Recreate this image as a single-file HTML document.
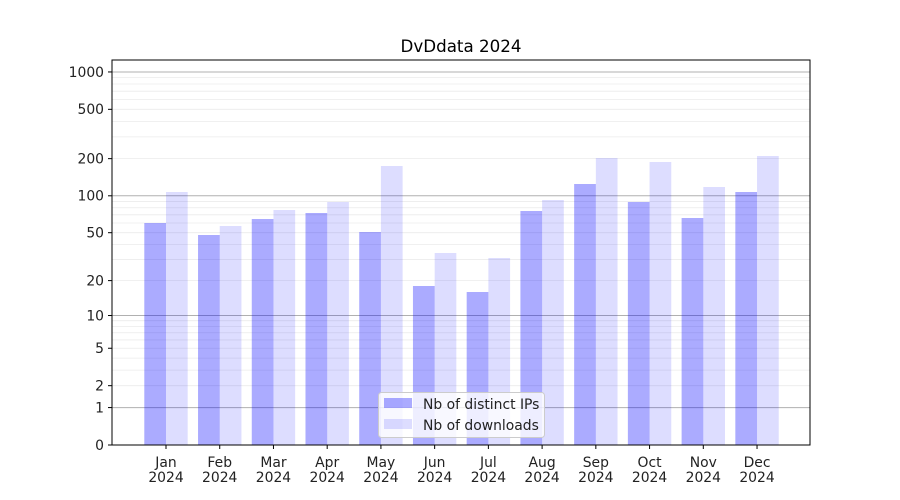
<!DOCTYPE html>
<html><head><meta charset="utf-8"><style>body{margin:0;background:#fff}svg{display:block;font-family:"DejaVu Sans","Liberation Sans",sans-serif}</style></head><body>
<svg width="900" height="500" viewBox="0 0 900 500" xmlns="http://www.w3.org/2000/svg">
<rect width="900" height="500" fill="#fff"/>
<g id="grid"></g>
<g id="bars"></g>
<rect x="112" y="60" width="698" height="385" fill="none" stroke="#000" stroke-width="1"/>
<g id="ticks" font-size="13.9" fill="#222"></g>
<text x="461" y="52" text-anchor="middle" font-size="16.7">DvDdata 2024</text>
<g>
<rect x="378.5" y="392.5" width="166" height="45" rx="3" fill="#fff" fill-opacity="0.8" stroke="#ccc"/>
<rect x="384" y="398" width="28" height="10" fill="#0000ff" fill-opacity="0.33"/>
<rect x="384" y="419" width="28" height="10" fill="#0000ff" fill-opacity="0.133"/>
<text x="423" y="409" font-size="13.9" fill="#222">Nb of distinct IPs</text>
<text x="423" y="430" font-size="13.9" fill="#222">Nb of downloads</text>
</g>
<script>
var ns="http://www.w3.org/2000/svg";
function Y(v){return 445-124.33*Math.log10(1+v);}
function el(t,a,p,txt){var e=document.createElementNS(ns,t);for(var k in a)e.setAttribute(k,a[k]);if(txt!==undefined)e.textContent=txt;p.appendChild(e);return e;}
var g=document.getElementById('grid');
[1,10,100,1000].forEach(function(d){for(var m=1;m<10;m++){var v=d*m;if(v>1250)continue;var y=Y(v);
el('line',{x1:112,x2:810,y1:y,y2:y,stroke:m==1?'#b0b0b0':'#ebebeb','stroke-width':m==1?1:0.8},g);}});
var b=document.getElementById('bars');
var blue=[223,235,219,213,232,286,292,211,184,202,218,192];
var light=[192,226,210,202,166,253,258,200,158,162,187,156];
var mon=['Jan','Feb','Mar','Apr','May','Jun','Jul','Aug','Sep','Oct','Nov','Dec'];
var t=document.getElementById('ticks');
for(var i=0;i<12;i++){var c=166+53.73*i;
el('rect',{x:c-21.7,y:blue[i],width:21.7,height:445-blue[i],fill:'#0000ff','fill-opacity':0.33},b);
el('rect',{x:c,y:light[i],width:21.7,height:445-light[i],fill:'#0000ff','fill-opacity':0.133},b);
el('line',{x1:c,x2:c,y1:445,y2:449,stroke:'#000'},t);
el('text',{x:c,y:467,'text-anchor':'middle'},t,mon[i]);
el('text',{x:c,y:482,'text-anchor':'middle'},t,'2024');}
[0,1,2,5,10,20,50,100,200,500,1000].forEach(function(v){var y=Y(v);
el('line',{x1:108,x2:112,y1:y,y2:y,stroke:'#000'},t);
el('text',{x:104,y:y+4.8,'text-anchor':'end'},t,String(v));});
</script>
</svg>
</body></html>
